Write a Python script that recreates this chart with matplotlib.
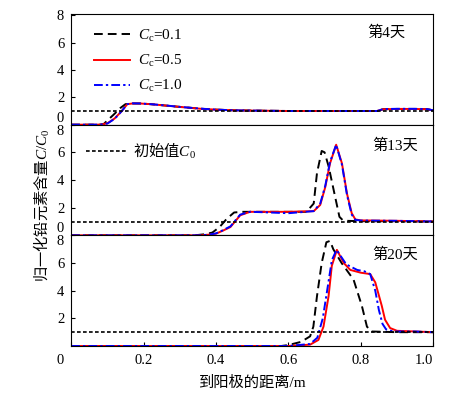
import numpy as np
import matplotlib
matplotlib.use("Agg")
import matplotlib.pyplot as plt
from matplotlib.transforms import ScaledTranslation

plt.rcParams['font.family'] = ['Liberation Serif', 'Noto Sans CJK SC']
plt.rcParams['mathtext.fontset'] = 'custom'
plt.rcParams['mathtext.rm'] = 'Liberation Serif'
plt.rcParams['mathtext.it'] = 'Liberation Serif:italic'
plt.rcParams['mathtext.bf'] = 'Liberation Serif:bold'
plt.rcParams['mathtext.sf'] = 'Noto Sans CJK SC'
plt.rcParams['axes.unicode_minus'] = False

# Data: distance to anode (m) vs normalised Pb content C/C0
series_labels = [r"$C_\mathrm{c}$=0.1", r"$C_\mathrm{c}$=0.5", r"$C_\mathrm{c}$=1.0"]
day_labels = ["第4天", "第13天", "第20天"]
c0_value = 1.0

# day 4
x4_01 = [0, 0.08, 0.09, 0.10, 0.12, 0.135, 0.15, 0.17, 0.19, 0.22, 0.26, 0.30, 0.36, 0.40, 0.45, 0.50, 0.60,
         0.70, 0.80, 0.845, 0.862, 0.90, 0.95, 0.983, 1.0]
y4_01 = [0, 0, 0.05, 0.3, 0.8, 1.2, 1.5, 1.55, 1.55, 1.5, 1.4, 1.3, 1.16, 1.1, 1.05, 1.03, 1.0,
         1.0, 1.0, 1.0, 1.13, 1.15, 1.15, 1.13, 1.05]
x4_05 = [0, 0.08, 0.10, 0.12, 0.14, 0.155, 0.17, 0.19, 0.22, 0.26, 0.30, 0.36, 0.40, 0.45, 0.50, 0.60,
         0.70, 0.80, 0.845, 0.862, 0.90, 0.95, 0.983, 1.0]
y4_05 = [0, 0, 0.1, 0.45, 1.0, 1.5, 1.55, 1.55, 1.5, 1.4, 1.3, 1.16, 1.1, 1.05, 1.03, 1.0,
         1.0, 1.0, 1.0, 1.13, 1.15, 1.15, 1.13, 1.05]
x4_10 = x4_05
y4_10 = [0, 0, 0.08, 0.42, 1.0, 1.5, 1.56, 1.55, 1.5, 1.41, 1.3, 1.17, 1.1, 1.05, 1.03, 1.0,
         1.0, 1.0, 1.0, 1.14, 1.16, 1.16, 1.14, 1.05]

# day 13
x13_01 = [0, 0.34, 0.37, 0.39, 0.41, 0.43, 0.45, 0.47, 0.55, 0.65, 0.67, 0.679, 0.692, 0.70, 0.711,
          0.729, 0.741, 0.75, 0.76, 0.80, 0.90, 1.0]
y13_01 = [0, 0, 0.08, 0.2, 0.6, 1.2, 1.65, 1.7, 1.7, 1.7, 2.3, 4.5, 6.1, 6.0, 5.0,
          2.8, 1.34, 1.1, 1.05, 1.02, 1.02, 1.0]
x13_05 = [0, 0.36, 0.38, 0.40, 0.42, 0.44, 0.467, 0.494, 0.52, 0.60, 0.67, 0.688, 0.702, 0.715, 0.732,
          0.748, 0.762, 0.775, 0.785, 0.80, 0.90, 1.0]
y13_05 = [0, 0, 0.05, 0.12, 0.35, 0.6, 1.45, 1.7, 1.7, 1.7, 1.75, 2.2, 3.5, 5.2, 6.55,
          5.2, 3.0, 1.6, 1.15, 1.08, 1.05, 1.0]
x13_10 = x13_05
y13_10 = [0, 0, 0.05, 0.14, 0.38, 0.65, 1.5, 1.7, 1.68, 1.6, 1.75, 2.3, 3.6, 5.3, 6.55,
          5.1, 2.9, 1.5, 1.12, 1.07, 1.05, 1.0]

# day 20
x20_01 = [0, 0.58, 0.60, 0.635, 0.66, 0.669, 0.679, 0.692, 0.705, 0.715, 0.724, 0.747, 0.78,
          0.803, 0.817, 0.83, 0.90, 1.0]
y20_01 = [0, 0, 0.07, 0.3, 0.7, 1.4, 3.6, 6.0, 7.5, 7.6, 7.0, 6.0, 4.8,
          2.9, 1.4, 1.05, 1.0, 1.0]
x20_05 = [0, 0.60, 0.66, 0.683, 0.697, 0.711, 0.72, 0.734, 0.753, 0.771, 0.80, 0.826, 0.84,
          0.858, 0.867, 0.881, 0.90, 0.95, 1.0]
y20_05 = [0, 0, 0.1, 0.44, 1.4, 3.6, 5.8, 6.95, 6.0, 5.5, 5.3, 5.2, 4.6,
          2.9, 1.9, 1.3, 1.1, 1.05, 1.0]
x20_10 = [0, 0.60, 0.66, 0.68, 0.695, 0.71, 0.72, 0.733, 0.76, 0.79, 0.81, 0.826, 0.84,
          0.85, 0.86, 0.87, 0.89, 0.95, 1.0]
y20_10 = [0, 0, 0.15, 0.6, 2.0, 4.5, 6.2, 6.95, 5.9, 5.5, 5.4, 5.2, 4.0,
          2.6, 1.6, 1.2, 1.05, 1.05, 1.0]

panels = [
    [(x4_01, y4_01), (x4_05, y4_05), (x4_10, y4_10)],
    [(x13_01, y13_01), (x13_05, y13_05), (x13_10, y13_10)],
    [(x20_01, y20_01), (x20_05, y20_05), (x20_10, y20_10)],
]

styles = [
    dict(color='black', lw=1.4, dashes=(4.5, 2.6)),
    dict(color='red', lw=1.4, linestyle='-'),
    dict(color='blue', lw=1.4, dashes=(4.5, 1.6, 1.2, 1.6)),
]

fig = plt.figure(figsize=(4.56, 3.95), dpi=100)
gs = fig.add_gridspec(3, 1, left=0.156, right=0.95, bottom=0.124, top=0.9646, hspace=0)
axes = [fig.add_subplot(gs[i]) for i in range(3)]

for i, ax in enumerate(axes):
    for (xs, ys), st, lab in zip(panels[i], styles, series_labels):
        ax.plot(xs, ys, label=lab, **st)
    c0, = ax.plot([0, 1], [c0_value, c0_value], color='black', lw=1.2, dashes=(2.2, 1.4),
                  label=r"$\mathsf{初始值}C_0$")
    ax.set_xlim(0, 1)
    ax.set_ylim(0, 8.1 if i == 0 else 8.0)
    ax.tick_params(direction='in', length=3, labelsize=10.5, pad=5)
    ax.text(0.87 if i == 0 else 0.895, 0.83 if i != 1 else 0.81, day_labels[i],
            transform=ax.transAxes, ha='center', va='center', fontsize=11)
    if i < 2:
        ax.set_yticks([0, 2, 4, 6, 8])
        ax.tick_params(axis='x', length=0, labelbottom=False)
        ax.get_yticklabels()[0].set_verticalalignment('bottom')
    else:
        ax.set_yticks([2, 4, 6, 8])
        ax.set_xticks([0, 0.2, 0.4, 0.6, 0.8, 1.0])
        ax.set_xticklabels(['0', '0.2', '0.4', '0.6', '0.8', '1.0'])
        ax.tick_params(axis='x', pad=6)
        xl = ax.get_xticklabels()
        xl[0].set_horizontalalignment('right')
        xl[0].set_transform(xl[0].get_transform() + ScaledTranslation(-5 / 72, 0, fig.dpi_scale_trans))
        xl[-1].set_horizontalalignment('right')
        ax.set_xlabel("到阳极的距离/m", fontsize=11, labelpad=6)
    if i > 0:
        ax.get_yticklabels()[-1].set_verticalalignment('top')

    if i == 0:
        h, l = ax.get_legend_handles_labels()
        ax.legend(h[:3], l[:3], loc='upper left', bbox_to_anchor=(0.045, 0.93), frameon=False,
                  fontsize=11, handlelength=2.4, handletextpad=0.5, labelspacing=0.6,
                  borderaxespad=0)
    elif i == 1:
        ax.legend([c0], [c0.get_label()], loc='upper left', bbox_to_anchor=(0.025, 0.91),
                  frameon=False, fontsize=11, handlelength=2.7, handletextpad=0.35,
                  borderaxespad=0)

fig.text(42 / 456, 1 - 205 / 395, r"$\mathsf{归一化铅元素含量}C/C_0$", rotation=90,
         ha='center', va='center', fontsize=11)

fig.savefig("out.png", dpi=100)
